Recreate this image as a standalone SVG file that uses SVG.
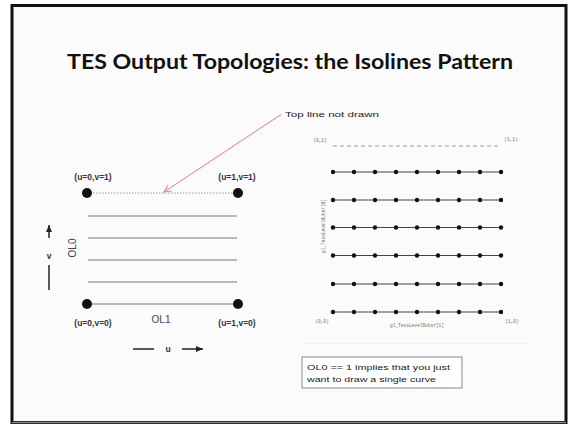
<svg xmlns="http://www.w3.org/2000/svg" width="570" height="424" viewBox="0 0 570 424">
  <style>
    .title { font-family: Lato, "Liberation Sans", sans-serif; font-weight: bold; font-size: 21px; fill: #111; }
    .lbl { font-family: "Liberation Sans", Arial, sans-serif; font-weight: bold; font-size: 8.5px; fill: #333; }
    .lbl2 { font-family: "Liberation Sans", Arial, sans-serif; font-size: 10px; fill: #444; }
    .hand { font-family: "Liberation Sans", Arial, sans-serif; font-size: 8px; fill: #222; }
    .tiny { font-family: "Liberation Mono", monospace; font-size: 4.5px; fill: #666; }
    .iso { stroke: #777; stroke-width: 1; fill: none; }
    .row { stroke: #444; stroke-width: 1; fill: none; }
    .dot { fill: #111; }
  </style>
  <defs>
    <marker id="redHead" markerWidth="8" markerHeight="8" refX="7" refY="4" orient="auto" markerUnits="userSpaceOnUse">
      <path d="M0,0.5 L7,4 L0,7.5" fill="none" stroke="#e87c84" stroke-width="1"/>
    </marker>
    <marker id="blkHead" markerWidth="8" markerHeight="8" refX="7" refY="4" orient="auto" markerUnits="userSpaceOnUse">
      <path d="M0,1 L7,4 L0,7 Z" fill="#222"/>
    </marker>
    <g id="rowDots">
      <line class="row" x1="333" y1="0" x2="501" y2="0"/>
      <circle class="dot" cx="333" cy="0" r="2.2"/>
      <circle class="dot" cx="354" cy="0" r="2.2"/>
      <circle class="dot" cx="375" cy="0" r="2.2"/>
      <circle class="dot" cx="396" cy="0" r="2.2"/>
      <circle class="dot" cx="417" cy="0" r="2.2"/>
      <circle class="dot" cx="438" cy="0" r="2.2"/>
      <circle class="dot" cx="459" cy="0" r="2.2"/>
      <circle class="dot" cx="480" cy="0" r="2.2"/>
      <circle class="dot" cx="501" cy="0" r="2.2"/>
    </g>
  </defs>

  <!-- slide frame -->
  <rect x="0" y="0" width="570" height="424" fill="#ffffff"/>
  <rect x="12" y="5.5" width="554" height="417" fill="#fbfbfb" stroke="#111" stroke-width="3"/>
  <line x1="12" y1="422.5" x2="566" y2="422.5" stroke="#888" stroke-width="1.5"/>

  <text class="title" x="290" y="69" text-anchor="middle" textLength="446" lengthAdjust="spacingAndGlyphs">TES Output Topologies: the Isolines Pattern</text>

  <!-- callout -->
  <g id="callout">
    <text class="hand" x="285" y="116.5" font-size="8.5" textLength="94" lengthAdjust="spacingAndGlyphs">Top line not drawn</text>
  </g>

  <!-- left: isoline domain -->
  <g id="isoline-domain">
    <line x1="87" y1="193" x2="238" y2="193" stroke="#999" stroke-width="1" stroke-dasharray="1.5,1.5"/>
    <line class="iso" x1="88" y1="216" x2="237" y2="216"/>
    <line class="iso" x1="88" y1="238" x2="237" y2="238"/>
    <line class="iso" x1="88" y1="260" x2="237" y2="260"/>
    <line class="iso" x1="88" y1="282" x2="237" y2="282"/>
    <line class="iso" x1="87" y1="304" x2="238" y2="304"/>
  </g>
  <g id="corner-u0v1">
    <circle class="dot" cx="87" cy="193" r="5"/>
    <text class="lbl" x="93" y="180" text-anchor="middle">(u=0,v=1)</text>
  </g>
  <g id="corner-u1v1">
    <circle class="dot" cx="238" cy="193" r="5"/>
    <text class="lbl" x="237" y="180" text-anchor="middle">(u=1,v=1)</text>
  </g>
  <g id="corner-u0v0">
    <circle class="dot" cx="87" cy="304" r="5"/>
    <text class="lbl" x="93" y="326" text-anchor="middle">(u=0,v=0)</text>
  </g>
  <g id="corner-u1v0">
    <circle class="dot" cx="238" cy="304" r="5"/>
    <text class="lbl" x="237" y="326" text-anchor="middle">(u=1,v=0)</text>
  </g>
  <g id="edge-labels">
    <text class="lbl2" x="75.5" y="248" text-anchor="middle" transform="rotate(-90 75.5 248)">OL0</text>
    <text class="lbl2" x="161" y="322.5" text-anchor="middle">OL1</text>
  </g>
  <g id="axis-v">
    <text class="lbl" x="49" y="259" text-anchor="middle">v</text>
  </g>
  <g id="axis-u">
    <text class="lbl" x="168" y="352" text-anchor="middle">u</text>
  </g>

  <!-- right: tessellated isolines -->
  <g id="isoline-grid">
    <line x1="333" y1="146" x2="501" y2="146" stroke="#999" stroke-width="1" stroke-dasharray="4,3"/>
    <use href="#rowDots" y="172"/>
    <use href="#rowDots" y="200"/>
    <use href="#rowDots" y="227.5"/>
    <use href="#rowDots" y="255.5"/>
    <use href="#rowDots" y="284"/>
    <use href="#rowDots" y="312"/>
    <text class="tiny" x="320" y="142" text-anchor="middle">(0,1)</text>
    <text class="tiny" x="511" y="141" text-anchor="middle">(1,1)</text>
    <text class="tiny" x="322" y="323" text-anchor="middle">(0,0)</text>
    <text class="tiny" x="512" y="323" text-anchor="middle">(1,0)</text>
    <text class="tiny" x="417" y="327" text-anchor="middle">gl_TessLevelOuter[1]</text>
    <text class="tiny" x="324.5" y="226" text-anchor="middle" transform="rotate(-90 324.5 226)">gl_TessLevelOuter[0]</text>
    <line x1="300" y1="343.5" x2="530" y2="343.5" stroke="#f1f1f1" stroke-width="1"/>
  </g>

  <g id="note">
    <rect x="302" y="357" width="160" height="31" fill="#ffffff" stroke="#888" stroke-width="1"/>
    <text class="hand" x="307" y="370" font-size="9" textLength="143" lengthAdjust="spacingAndGlyphs">OL0 == 1 implies that you just</text>
    <text class="hand" x="307" y="382" font-size="9" textLength="129" lengthAdjust="spacingAndGlyphs">want to draw a single curve</text>
  </g>

  <!-- connectors -->
  <g id="connectors">
    <line x1="281" y1="114.5" x2="164" y2="192" stroke="#e87c84" stroke-width="1" marker-end="url(#redHead)"/>
    <line x1="49" y1="238" x2="49" y2="225" stroke="#222" stroke-width="1.5" marker-end="url(#blkHead)"/>
    <line x1="49" y1="265" x2="49" y2="290" stroke="#222" stroke-width="1.5"/>
    <line x1="133" y1="349" x2="154" y2="349" stroke="#222" stroke-width="1.5"/>
    <line x1="182" y1="349" x2="203" y2="349" stroke="#222" stroke-width="1.5" marker-end="url(#blkHead)"/>
  </g>
</svg>
